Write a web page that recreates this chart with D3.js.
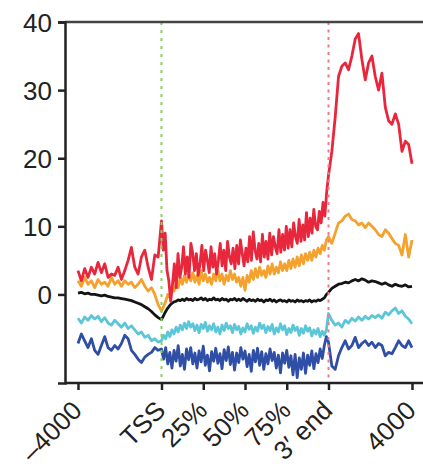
<!DOCTYPE html>
<html>
<head>
<meta charset="utf-8">
<script src="https://cdn.jsdelivr.net/npm/d3@7"></script>
<style>
  body { margin: 0; background: #fff; }
  svg { display: block; font-family: "Liberation Sans", Arial, sans-serif; }
</style>
</head>
<body>
<svg id="chart" width="423" height="468"></svg>
<script>
// Tick labels on the metagene axis (0..400 scaled units)
const xTickPos = [0, 100, 150, 200, 250, 300, 400];
const xTickLabels = ["\u20134000", "TSS", "25%", "50%", "75%", "3\u2032 end", "4000"];
const yTicks = [0, 10, 20, 30, 40];

// each series: upstream flank (-4000..TSS), gene body (TSS..3' end), downstream flank (3' end..4000)
const redUp = [3.5, 2.0, 3.8, 2.5, 4.0, 3.0, 4.7, 3.2, 4.5, 2.5, 3.0, 2.8, 4.0, 2.2, 3.5, 5.0, 6.9, 4.0, 3.0, 5.5, 6.5, 4.0, 2.2, 5.8, 5.5];
const redBody = [10.8, 6.5, 9.0, 3.5, 2.0, -1.0, 1.5, 4.5, 1.0, 6.0, 2.5, 4.0, 7.0, 3.0, 5.5, 2.5, 7.5, 6.0, 3.5, 6.0,
  2.8, 4.5, 7.2, 3.5, 6.5, 5.0, 3.2, 7.0, 4.0, 6.0, 3.0, 5.0, 7.5, 4.2, 6.5, 3.5, 7.8, 5.5, 4.5, 6.8,
  3.8, 7.2, 4.5, 8.0, 6.0, 4.2, 6.8, 4.8, 8.5, 5.0, 9.2, 6.5, 5.2, 7.5, 4.8, 8.8, 5.5, 7.8, 5.2, 9.0,
  5.8, 8.5, 7.0, 6.0, 9.5, 6.2, 8.8, 6.5, 10.0, 6.8, 9.5, 7.0, 10.5, 8.5, 7.5, 11.0, 7.8, 10.2, 8.0, 12.0,
  8.5, 11.2, 9.0, 12.5, 10.0, 9.5, 12.2, 10.5, 13.5, 11.5, 15.0];
const redDown = [17.5, 21.0, 26.0, 32.0, 33.5, 34.0, 33.0, 35.0, 37.5, 38.3, 34.5, 31.5, 34.0, 35.0, 32.0, 30.0, 32.5, 27.5, 25.5, 25.0, 26.5, 25.0, 21.0, 22.5, 22.0, 19.2];

const orangeUp = [2.0, 1.2, 2.5, 1.5, 2.0, 1.0, 2.2, 1.5, 1.8, 1.2, 2.5, 1.5, 2.0, 1.2, 2.0, 1.5, 1.8, 1.0, 1.5, 2.2, 1.2, 0.5, 1.0, 0.0, -1.5];
const orangeBody = [-2.4, -1.8, -1.0, 0.0, -0.5, 1.0, 0.5, 1.5, 1.0, 2.5, 1.5, 2.8, 1.8, 3.0, 2.0, 3.2, 1.8, 2.8, 1.5, 3.5,
  2.0, 3.0, 1.8, 2.5, 1.5, 3.0, 2.0, 3.5, 2.0, 3.0, 1.5, 2.8, 2.0, 3.5, 2.2, 3.0, 1.8, 2.5, 1.2, 2.5,
  0.6, 2.8, 1.8, 3.5, 2.2, 3.8, 2.5, 4.0, 2.8, 3.5, 2.5, 4.2, 3.0, 4.5, 3.0, 4.0, 3.2, 4.8, 3.5, 4.5,
  3.5, 5.0, 3.8, 5.2, 4.0, 5.5, 4.2, 5.8, 4.5, 6.0, 5.0, 6.2, 5.0, 6.5, 5.5, 6.8, 6.0, 7.2, 6.5, 8.0];
const orangeDown = [8.5, 7.5, 9.0, 10.5, 10.8, 11.5, 11.8, 11.0, 10.8, 10.2, 10.5, 9.8, 10.5, 10.0, 9.5, 8.8, 8.5, 9.5, 9.0, 8.2, 7.5, 7.2, 5.8, 8.8, 5.5, 8.0];

const blackUp = [0.2, 0.3, 0.1, 0.2, 0.0, 0.0, -0.1, -0.2, -0.1, -0.3, -0.4, -0.5, -0.5, -0.6, -0.7, -0.8, -0.9, -1.1, -1.3, -1.5, -1.8, -2.1, -2.5, -3.0, -3.4];
const blackBody = [-3.7, -3.1, -2.5, -2.0, -1.6, -1.3, -1.1, -1.0, -0.8, -0.9, -0.7, -0.9, -0.6, -0.8, -0.7, -0.9, -0.6, -0.8, -0.7, -0.5,
  -0.8, -0.6, -0.9, -0.7, -0.8, -0.5, -0.8, -0.7, -0.9, -0.6, -0.8, -0.7, -1.0, -0.7, -0.8, -0.6, -0.9, -0.7, -0.9, -0.6,
  -0.8, -1.0, -0.7, -0.9, -0.8, -1.0, -0.7, -0.9, -0.8, -1.1, -0.8, -0.9, -0.7, -1.0, -0.8, -1.1, -0.9, -0.8, -1.0, -0.9,
  -1.1, -0.8, -1.0, -0.9, -1.1, -0.8, -1.0, -0.9, -1.1, -0.9, -1.0, -0.8, -1.1, -0.9, -1.0, -0.8, -0.9, -0.7, -0.5, 0.0];
const blackDown = [0.3, 0.9, 1.2, 1.5, 1.6, 1.8, 1.7, 2.0, 2.2, 2.0, 2.3, 2.1, 1.8, 2.0, 1.9, 1.7, 1.5, 1.7, 1.4, 1.2, 1.5, 1.3, 1.2, 1.4, 1.1, 1.2];

const cyanUp = [-3.5, -4.2, -3.3, -3.8, -3.1, -3.6, -3.2, -4.0, -3.4, -4.2, -4.5, -3.8, -4.3, -4.8, -4.2, -5.0, -4.6, -5.2, -5.8, -5.5, -6.3, -6.0, -6.8, -6.5, -7.0];
const cyanBody = [-6.8, -6.0, -6.5, -5.5, -6.2, -5.2, -5.8, -4.8, -5.5, -4.5, -5.2, -4.2, -5.0, -4.0, -4.8, -4.3, -5.3, -4.5, -5.6, -4.4,
  -5.0, -4.1, -5.4, -4.6, -5.2, -4.3, -5.5, -4.8, -5.8, -4.5, -5.3, -4.2, -5.0, -4.6, -5.6, -4.4, -5.2, -4.7, -5.8, -4.9,
  -5.5, -4.3, -5.1, -4.6, -5.7, -4.8, -5.4, -4.2, -5.0, -4.5, -5.6, -4.7, -5.3, -4.4, -5.8, -4.9, -5.5, -4.3, -5.2, -4.6,
  -5.9, -5.0, -5.6, -4.5, -5.3, -4.8, -6.0, -5.0, -5.7, -4.6, -5.4, -4.9, -6.1, -5.2, -5.8, -5.0, -6.2, -5.4, -6.0, -5.2];
const cyanDown = [-2.8, -3.8, -4.5, -4.2, -4.8, -3.8, -4.2, -3.5, -3.9, -3.3, -3.8, -3.2, -3.6, -3.1, -3.4, -3.0, -3.5, -2.6, -3.0, -2.4, -2.0, -2.8, -2.4, -3.2, -3.6, -4.3];

const blueUp = [-7.2, -5.8, -6.8, -7.8, -6.5, -8.2, -8.8, -7.5, -6.2, -7.8, -8.2, -7.5, -8.0, -7.2, -6.0, -6.5, -8.2, -8.8, -9.5, -10.0, -9.2, -8.8, -8.5, -7.8, -8.2];
const blueBody = [-8.0, -9.5, -7.8, -10.2, -8.5, -10.8, -8.2, -9.8, -7.5, -10.5, -8.8, -11.0, -8.0, -9.6, -7.8, -10.2, -8.6, -10.8, -8.3, -9.9,
  -7.6, -10.4, -8.9, -11.2, -8.4, -9.8, -7.9, -10.1, -8.7, -10.9, -8.1, -9.7, -7.7, -10.3, -8.5, -11.1, -8.6, -10.0, -7.8, -9.5,
  -8.3, -10.6, -8.8, -11.3, -8.2, -9.9, -7.9, -10.4, -8.4, -11.0, -8.7, -10.2, -8.0, -9.7, -8.5, -10.8, -8.9, -11.5, -8.6, -10.1,
  -8.2, -10.7, -9.0, -11.8, -8.8, -12.2, -9.3, -11.0, -8.6, -11.6, -8.9, -10.4, -8.3, -10.9, -8.7, -10.0, -8.0, -9.4, -7.5, -6.2];
const blueDown = [-7.0, -10.5, -11.0, -9.0, -7.8, -6.8, -8.0, -7.5, -6.3, -7.8, -7.2, -6.8, -7.5, -7.0, -7.8, -7.2, -7.5, -9.0, -8.5, -8.7, -7.8, -6.8, -7.5, -7.8, -6.8, -7.8];

const seriesNames = ["blue", "cyan", "black", "orange", "red"];
const seriesColors = ["#2f4ea6", "#5cc6d9", "#141414", "#f4a12e", "#e8273c"];

function profile(up, body, down) {
    // upstream spans 0..100, body 100..300, downstream 300..400
    const pts = [];
    up.forEach((v, i) => pts.push([i * 100 / up.length, v]));
    body.forEach((v, i) => pts.push([100 + i * 200 / body.length, v]));
    down.forEach((v, i) => pts.push([300 + i * 100 / (down.length - 1), v]));
    return pts;
}

const series = [
    profile(blueUp, blueBody, blueDown),
    profile(cyanUp, cyanBody, cyanDown),
    profile(blackUp, blackBody, blackDown),
    profile(orangeUp, orangeBody, orangeDown),
    profile(redUp, redBody, redDown)
];

const svg = d3.select("#chart");
const frameLeft = 65, frameTop = 22, frameBottom = 383, frameRight = 423;

const x = d3.scaleLinear().domain([0, 400]).range([78, 412]);
const y = d3.scaleLinear().domain([-13, 40]).range([frameBottom, frameTop]);

const line = d3.line()
    .x(d => x(d[0]))
    .y(d => y(d[1]));

svg.append("g")
    .attr("fill", "none")
    .attr("stroke-width", 2.8)
    .attr("stroke-linejoin", "round")
    .selectAll("path")
    .data(series)
    .join("path")
    .attr("class", (d, i) => "series " + seriesNames[i])
    .attr("stroke", (d, i) => seriesColors[i])
    .attr("d", line);

// TSS and 3' end markers
svg.append("line")
    .attr("x1", x(100)).attr("x2", x(100))
    .attr("y1", frameTop).attr("y2", frameBottom)
    .attr("stroke", "#86cf63")
    .attr("stroke-width", 2)
    .attr("stroke-dasharray", "3,5");

svg.append("line")
    .attr("x1", x(300)).attr("x2", x(300))
    .attr("y1", frameTop).attr("y2", frameBottom)
    .attr("stroke", "#f0788a")
    .attr("stroke-width", 2)
    .attr("stroke-dasharray", "3,4.5");

// frame: top and bottom run off the right edge
svg.append("line")
    .attr("x1", frameLeft).attr("x2", frameRight)
    .attr("y1", frameTop).attr("y2", frameTop)
    .attr("stroke", "#444")
    .attr("stroke-width", 2.5);

svg.append("line")
    .attr("x1", frameLeft).attr("x2", frameRight)
    .attr("y1", frameBottom).attr("y2", frameBottom)
    .attr("stroke", "#222")
    .attr("stroke-width", 2.5);

const yAxis = svg.append("g")
    .attr("transform", "translate(" + frameLeft + ",0)")
    .call(d3.axisLeft(y).tickValues(yTicks).tickSize(7).tickPadding(6));

yAxis.select(".domain").attr("stroke", "#222").attr("stroke-width", 2.5);
yAxis.selectAll(".tick line").attr("stroke", "#222").attr("stroke-width", 2.5);
yAxis.selectAll(".tick text")
    .attr("fill", "#222")
    .attr("font-size", 26)
    .attr("dy", "0.36em");

const xAxis = svg.append("g")
    .attr("transform", "translate(0," + frameBottom + ")")
    .call(d3.axisBottom(x).tickValues(xTickPos)
        .tickFormat((d, i) => xTickLabels[i]).tickSize(7));

xAxis.select(".domain").remove();
xAxis.selectAll(".tick line").attr("stroke", "#222").attr("stroke-width", 2.5);
xAxis.selectAll(".tick text")
    .attr("fill", "#222")
    .attr("font-size", 26)
    .attr("y", 0)
    .attr("dy", 0)
    .attr("text-anchor", "end")
    .attr("transform", "translate(5,29) rotate(-45)");
</script>
</body>
</html>
